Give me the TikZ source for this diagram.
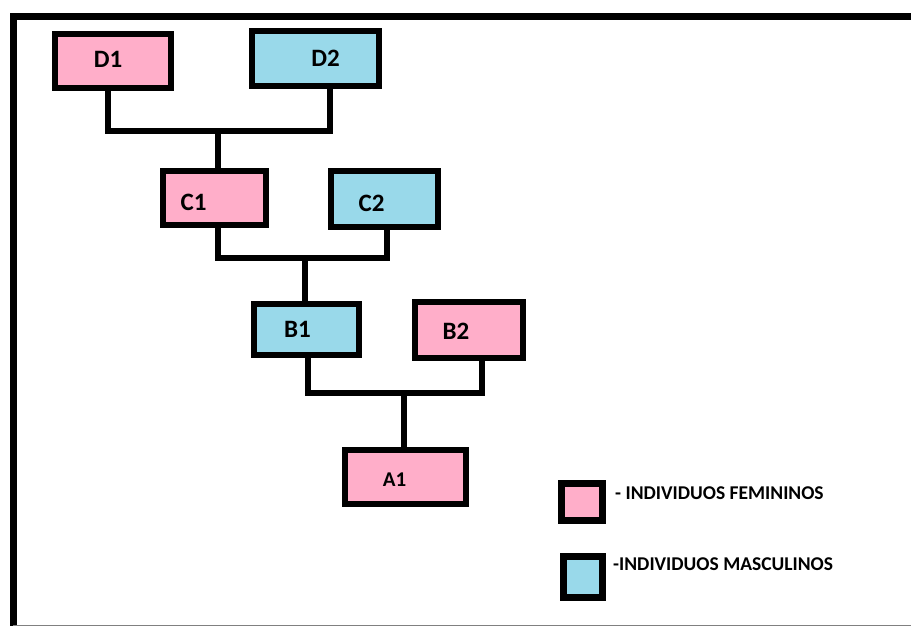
\documentclass[tikz,border=0pt]{standalone}
\usepackage{fontspec}
\setmainfont{Carlito}
\usepackage{xcolor}
\usetikzlibrary{positioning,calc}
\definecolor{rosa}{HTML}{FFAEC9}
\definecolor{celeste}{HTML}{99D9EA}

\begin{document}
\begin{tikzpicture}[x=1pt,y=-1pt,
	person/.style={draw=black, line width=6pt, inner sep=0pt},
	fem/.style={person, fill=rosa},
	masc/.style={person, fill=celeste},
	tag/.style={font=\fontsize{25}{25}\selectfont\bfseries},
	link/.style={line width=5.5pt, line cap=rect},
	legendbox/.style={draw=black, line width=7pt, inner sep=0pt},
	legendtext/.style={anchor=west, inner sep=0pt, font=\fontsize{19.5}{19.5}\selectfont\bfseries}]
	\useasboundingbox (0,0) rectangle (911,626);
	\fill [white] (0,0) rectangle (911,626);
	
	% frame
	\draw [line width=7pt] (13,626) -- (13,16.5) -- (911,16.5);
	\draw [gray, line width=1pt] (13,625) -- (911,625);
	
	% pedigree boxes
	\node [fem, minimum width=116pt, minimum height=54pt, label={[tag, xshift=-5pt, yshift=2pt]center:D1}] (d1) at (113,61) {};
	\node [masc, minimum width=127pt, minimum height=55pt, label={[tag, xshift=10pt]center:D2}] (d2) at (315.5,58.5) {};
	\node [fem, minimum width=103pt, minimum height=54pt, label={[tag, xshift=-21pt, yshift=-4pt]center:C1}] (c1) at (214.5,198) {};
	\node [masc, minimum width=107pt, minimum height=56pt, label={[tag, xshift=-13pt, yshift=-4pt]center:C2}] (c2) at (384.5,199) {};
	\node [masc, minimum width=105pt, minimum height=51pt, label={[tag, xshift=-9pt]center:B1}] (b1) at (306.5,329.5) {};
	\node [fem, minimum width=108pt, minimum height=56pt, label={[tag, xshift=-13pt, yshift=-1pt]center:B2}] (b2) at (469,330) {};
	\node [fem, minimum width=121pt, minimum height=54pt, label={[tag, font=\fontsize{21}{21}\selectfont\bfseries, xshift=-11pt, yshift=-3pt]center:A1}] (a1) at (405.5,477) {};
	
	% attach points and bars
	\coordinate (d1s) at ([xshift=-5pt]d1.south);
	\coordinate (d2s) at ([xshift=14.5pt]d2.south);
	\coordinate (c1n) at ([xshift=3.5pt]c1.north);
	\coordinate (c1s) at ([xshift=3.5pt]c1.south);
	\coordinate (c2s) at ([xshift=2.5pt]c2.south);
	\coordinate (b1n) at ([xshift=-1.5pt]b1.north);
	\coordinate (b1s) at ([xshift=1.5pt]b1.south);
	\coordinate (b2s) at ([xshift=13pt]b2.south);
	\coordinate (a1n) at ([xshift=-1.5pt]a1.north);
	\coordinate (dbar) at (0,131);
	\coordinate (cbar) at (0,258);
	\coordinate (bbar) at (0,393);
	
	\draw [link] (d1s) |- (dbar -| d2s) -- (d2s);
	\draw [link] (dbar -| c1n) -- (c1n);
	\draw [link] (c1s) |- (cbar -| c2s) -- (c2s);
	\draw [link] (cbar -| b1n) -- (b1n);
	\draw [link] (b1s) |- (bbar -| b2s) -- (b2s);
	\draw [link] (bbar -| a1n) -- (a1n);
	
	% legend
	\node [legendbox, fill=rosa, minimum width=41pt, minimum height=37pt] (lfem) at (582,502) {};
	\node [legendbox, fill=celeste, minimum width=39pt, minimum height=41pt] (lmasc) at (583,577) {};
	\node [legendtext] (tfem) at (615,493) {- INDIVIDUOS FEMININOS};
	\node [legendtext] (tmasc) at (613,564) {-INDIVIDUOS MASCULINOS};
\end{tikzpicture}
\end{document}
